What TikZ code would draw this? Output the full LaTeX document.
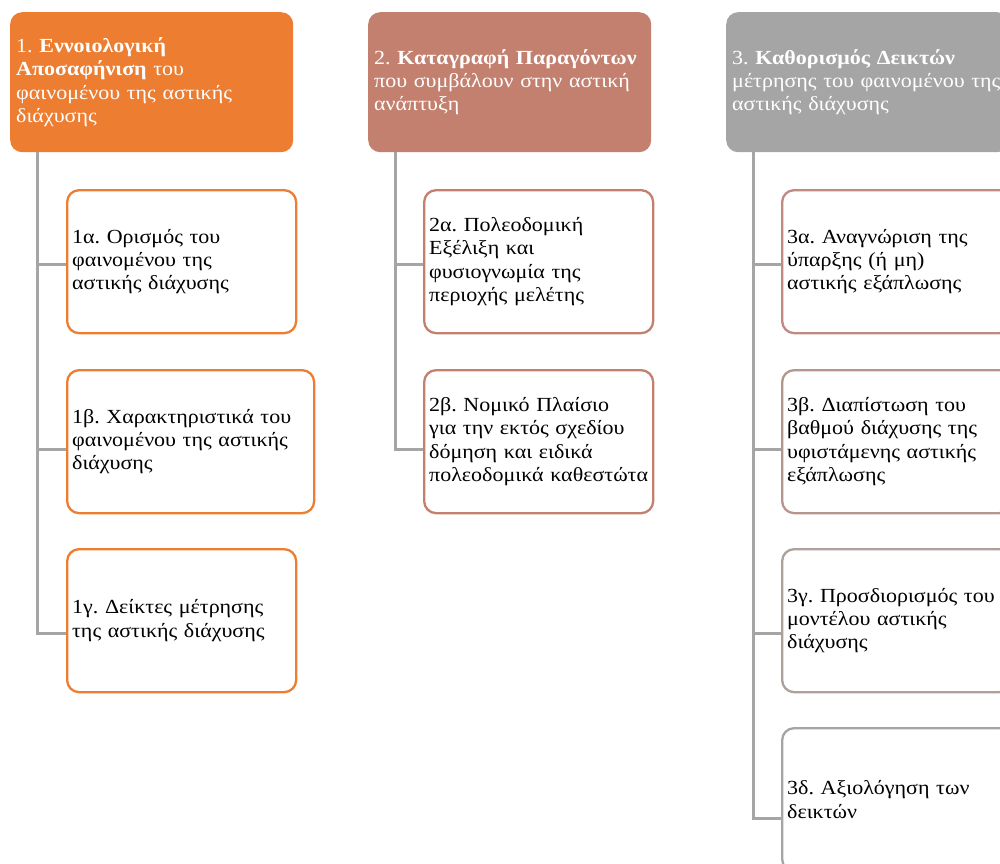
\documentclass[tikz,border=0pt]{standalone}
\usepackage{fontspec}
\setmainfont{Liberation Serif}[FakeStretch=1.1]
\usepackage{xcolor}
\usepackage{tikz}
\definecolor{accorange}{HTML}{ED7D31}
\definecolor{accbrown}{HTML}{C4806F}
\definecolor{accgray}{HTML}{A5A5A5}
\definecolor{mixa}{HTML}{BE8A82}
\definecolor{mixb}{HTML}{B5968F}
\definecolor{mixc}{HTML}{ADA09D}
\colorlet{linegray}{accgray}
\frenchspacing
\newcommand\boxfont{\fontsize{20pt}{23.3pt}\selectfont}
\tikzstyle{box}=[rectangle,rounded corners=12pt,anchor=north west,align=left,inner ysep=4pt,font=\boxfont]
\tikzstyle{headbox}=[box,text=white,inner xsep=6pt,text width=271pt,minimum height=140pt]
\tikzstyle{subbox}=[box,draw,fill=white,line width=2.3pt,inner xsep=5pt,text width=219pt,minimum height=143pt]
\tikzstyle{trunk}=[draw=linegray,line width=3pt]

\begin{document}
\begin{tikzpicture}[x=1pt,y=-1pt]
	\useasboundingbox (0,0) rectangle (1000,863);
	\clip (0,0) rectangle (1000,863);
	% headers
	\node[headbox,fill=accorange] (h1) at (10,12)  {1. \textbf{Εννοιολογική}\\\textbf{Αποσαφήνιση} του\\φαινομένου της αστικής\\διάχυσης};
	\node[headbox,fill=accbrown]  (h2) at (368,12) {2. \textbf{Καταγραφή Παραγόντων}\\που συμβάλουν στην αστική\\ανάπτυξη};
	\node[headbox,fill=accgray]   (h3) at (726,12) {3. \textbf{Καθορισμός Δεικτών}\\μέτρησης του φαινομένου της\\αστικής διάχυσης};
	% first column
	\node[subbox,draw=accorange] (s1a) at (66,189) {1α. Ορισμός του\\φαινομένου της\\αστικής διάχυσης};
	\node[subbox,draw=accorange,text width=237pt] (s1b) at (66,369) {1β. Χαρακτηριστικά του\\φαινομένου της αστικής\\διάχυσης};
	\node[subbox,draw=accorange] (s1c) at (66,548) {1γ. Δείκτες μέτρησης\\της αστικής διάχυσης};
	% second column
	\node[subbox,draw=accbrown] (s2a) at (423,189) {2α. Πολεοδομική\\Εξέλιξη και\\φυσιογνωμία της\\περιοχής μελέτης};
	\node[subbox,draw=accbrown] (s2b) at (423,369) {2β. Νομικό Πλαίσιο\\για την εκτός σχεδίου\\δόμηση και ειδικά\\\mbox{πολεοδομικά καθεστώτα}};
	% third column
	\node[subbox,draw=mixa]    (s3a) at (781,189) {3α. Αναγνώριση της\\ύπαρξης (ή μη)\\αστικής εξάπλωσης};
	\node[subbox,draw=mixb]    (s3b) at (781,369) {3β. Διαπίστωση του\\βαθμού διάχυσης της\\υφιστάμενης αστικής\\εξάπλωσης};
	\node[subbox,draw=mixc]    (s3c) at (781,548) {3γ. Προσδιορισμός του\\μοντέλου αστικής\\διάχυσης};
	\node[subbox,draw=accgray] (s3d) at (781,727) {3δ. Αξιολόγηση των\\δεικτών};
	% tree lines
	\draw[trunk] ([xshift=27pt]h1.south west) |- ([yshift=-3pt]s1a.west);
	\draw[trunk] ([xshift=27pt]h1.south west) |- ([yshift=-8pt]s1b.west);
	\draw[trunk] ([xshift=27pt]h1.south west) |- ([yshift=-13pt]s1c.west);
	\draw[trunk] ([xshift=27pt]h2.south west) |- ([yshift=-3pt]s2a.west);
	\draw[trunk] ([xshift=27pt]h2.south west) |- ([yshift=-8pt]s2b.west);
	\draw[trunk] ([xshift=27pt]h3.south west) |- ([yshift=-3pt]s3a.west);
	\draw[trunk] ([xshift=27pt]h3.south west) |- ([yshift=-8pt]s3b.west);
	\draw[trunk] ([xshift=27pt]h3.south west) |- ([yshift=-13pt]s3c.west);
	\draw[trunk] ([xshift=27pt]h3.south west) |- ([yshift=-19pt]s3d.west);
\end{tikzpicture}
\end{document}
